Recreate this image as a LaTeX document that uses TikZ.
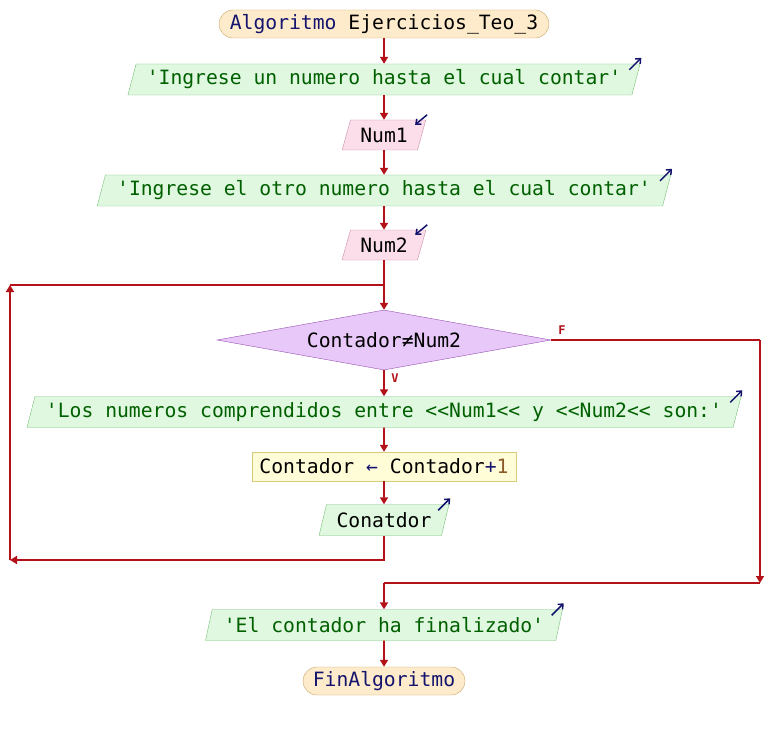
\documentclass[tikz,border=0pt]{standalone}
\usepackage{fontspec}
\setmonofont{DejaVu Sans Mono}
\usetikzlibrary{shapes.geometric,arrows.meta}
\definecolor{arrowred}{RGB}{178,18,24}
\definecolor{outfill}{RGB}{224,247,224}
\definecolor{outborder}{RGB}{120,192,120}
\definecolor{strgreen}{RGB}{0,96,0}
\definecolor{infill}{RGB}{252,222,234}
\definecolor{inborder}{RGB}{200,140,168}
\definecolor{decfill}{RGB}{232,200,248}
\definecolor{decborder}{RGB}{150,80,180}
\definecolor{asfill}{RGB}{255,252,216}
\definecolor{asborder}{RGB}{216,204,120}
\definecolor{stfill}{RGB}{253,235,203}
\definecolor{stborder}{RGB}{200,164,104}
\definecolor{navy}{RGB}{20,20,110}
\definecolor{numbrown}{RGB}{140,90,40}
\begin{document}
\begin{tikzpicture}[x=1pt,y=-1pt,
  font=\ttfamily\fontsize{19.7}{22}\selectfont,
  flow/.style={draw=arrowred, line width=1.7pt},
  arr/.style={flow,-{Triangle[length=7pt,width=8pt]}},
  icon/.style={draw=navy, line width=1.5pt, -{Straight Barb[length=4pt,width=7pt]}},
  outbox/.style={trapezium, trapezium left angle=68, trapezium right angle=112,
    trapezium stretches=true, draw=outborder, fill=outfill, text=strgreen,
    inner sep=0pt, minimum height=31},
  inbox/.style={trapezium, trapezium left angle=68, trapezium right angle=112,
    trapezium stretches=true, draw=inborder, fill=infill, text=black,
    inner sep=0pt, minimum height=30},
  termbox/.style={rectangle, rounded corners=14pt, draw=stborder, fill=stfill,
    inner sep=0pt, minimum height=28},
  asbox/.style={rectangle, draw=asborder, fill=asfill, inner sep=0pt, minimum height=29},
  decbox/.style={diamond, aspect=5.57, draw=decborder, fill=decfill, inner sep=0pt,
    minimum width=334, minimum height=60},
  lbl/.style={text=arrowred, font=\ttfamily\bfseries\fontsize{12}{14}\selectfont}
]
\useasboundingbox (0,0) rectangle (768,730);

\node[termbox, minimum width=330] (start) at (384,24) {\textcolor{navy}{Algoritmo} Ejercicios\_Teo\_3};
\node[outbox, minimum width=515] (o1) at (384,79.5) {'Ingrese un numero hasta el cual contar'};
\node[inbox, minimum width=84] (n1) at (384,135) {Num1};
\node[outbox, minimum width=575] (o2) at (384,190.5) {'Ingrese el otro numero hasta el cual contar'};
\node[inbox, minimum width=84] (n2) at (384,245) {Num2};
\node[decbox] (dec) at (384,340) {Contador≠Num2};
\node[outbox, minimum width=720] (o3) at (384,412) {'Los numeros comprendidos entre <<Num1<< y <<Num2<< son:'};
\node[asbox, minimum width=264] (as) at (384,466.5) {Contador \textcolor{navy}{←} Contador\textcolor{navy}{+}\textcolor{numbrown}{1}};
\node[outbox, minimum width=130, text=black] (o5) at (384,520) {Conatdor};
\node[outbox, minimum width=357] (o4) at (384,625) {'El contador ha finalizado'};
\node[termbox, minimum width=162, text=navy] (fin) at (384,681) {FinAlgoritmo};

\coordinate (j) at (384,285);
\coordinate (lb) at (384,560);
\coordinate (ll) at (10,560);
\coordinate (lt) at (10,285);
\coordinate (fr) at (760,340);
\coordinate (fb) at (760,583);
\coordinate (mb) at (384,583);

\draw[arr] (start) -- (o1);
\draw[arr] (o1) -- (n1);
\draw[arr] (n1) -- (o2);
\draw[arr] (o2) -- (n2);
\draw[flow] (n2) -- (j);
\draw[arr] (j) -- (dec);
\draw[arr] (dec) -- (o3);
\draw[arr] (o3) -- (as);
\draw[arr] (as) -- (o5);
\draw[arr] (o5) -- (lb) -- (ll);
\draw[arr] (ll) -- (lt);
\draw[flow] (lt) -- (j);
\draw[flow] (dec.east) -- (fr);
\draw[arr] (fr) -- (fb);
\draw[flow] (fb) -- (mb);
\draw[arr] (mb) -- (o4);
\draw[arr] (o4) -- (fin);

\node[lbl] (lf) at (562,330) {F};
\node[lbl] (lv) at (395,378) {V};

\foreach \n in {o1,o2,o3,o5,o4}
  \draw[icon] ([shift={(-11,6)}]\n.top right corner) -- ([shift={(1,-6)}]\n.top right corner);
\foreach \n in {n1,n2}
  \draw[icon] ([shift={(1,-5)}]\n.top right corner) -- ([shift={(-11,5)}]\n.top right corner);
\end{tikzpicture}
\end{document}
